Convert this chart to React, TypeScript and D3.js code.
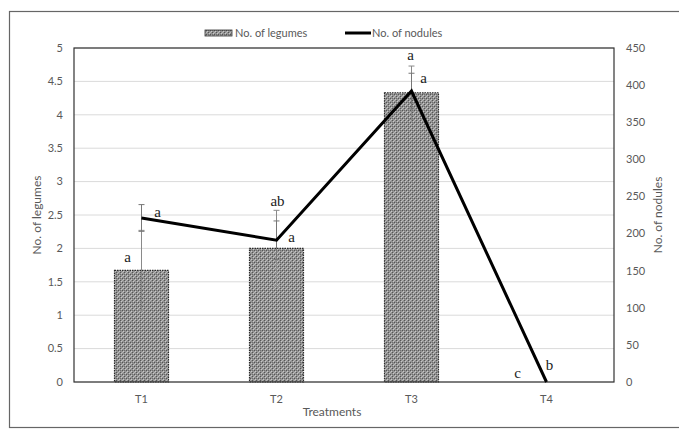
import React from "react";
import * as d3 from "d3";

const categories = ["T1", "T2", "T3", "T4"];
const legumes = [1.67, 2.0, 4.33, 0];
const legumesErr = [0.6, 0.57, 0.4, 0];
const nodules = [221, 191, 392, 0];
const nodulesErr = [18, 26, 24, 0];
const legumeLetters = ["a", "ab", "a", "c"];
const noduleLetters = ["a", "a", "a", "b"];
const leftTicks = [0, 0.5, 1, 1.5, 2, 2.5, 3, 3.5, 4, 4.5, 5];
const rightTicks = [0, 50, 100, 150, 200, 250, 300, 350, 400, 450];

const W = 679, H = 430;
const M = { left: 74, right: 614, top: 48, bottom: 382 };
const FONT = "Lato, 'Open Sans', sans-serif";
const SERIF = "'Liberation Serif', 'DejaVu Serif', serif";
const GRAY = "#595959";

export default function App() {
  const x = d3.scaleBand<string>().domain(categories).range([M.left, M.right]).paddingInner(0).paddingOuter(0);
  const yL = d3.scaleLinear().domain([0, 5]).range([M.bottom, M.top]);
  const yR = d3.scaleLinear().domain([0, 450]).range([M.bottom, M.top]);
  const cx = (c: string) => (x(c) as number) + x.bandwidth() / 2;
  const barW = x.bandwidth() * 0.4;
  const line = d3.line<number>().x((_, i) => cx(categories[i])).y((d) => yR(d));

  // letter offsets (label placement)
  const barLetterPos = [
    { dx: -14, dy: -8 },
    { dx: 1, dy: -42 },
    { dx: -1, dy: -33 },
    { dx: -29, dy: -4 },
  ];
  const lineLetterPos = [
    { dx: 16, dy: -1 },
    { dx: 15, dy: 2 },
    { dx: 12, dy: -8 },
    { dx: 3, dy: -12 },
  ];

  return (
    <svg width={W} height={H} style={{ position: "absolute", left: 0, top: 0, background: "#fff" }}>
      <defs>
        <pattern id="dots" width="4" height="4" patternUnits="userSpaceOnUse">
          <rect width="4" height="4" fill="#939393" />
          <rect x="0" y="0" width="1" height="1" fill="#555" />
          <rect x="2" y="2" width="1" height="1" fill="#555" />
          <rect x="1" y="1" width="1" height="1" fill="#c8c8c8" />
          <rect x="3" y="3" width="1" height="1" fill="#c8c8c8" />
          <rect x="2" y="0" width="1" height="1" fill="#b5b5b5" />
          <rect x="0" y="2" width="1" height="1" fill="#707070" />
        </pattern>
      </defs>
      <rect x={9.5} y={11.5} width={675} height={416} fill="none" stroke="#666" strokeWidth={1.2} />

      {/* gridlines */}
      {leftTicks.map((t) => (
        <line key={"g" + t} x1={M.left} x2={M.right} y1={yL(t)} y2={yL(t)} stroke="#dadada" strokeWidth={1} />
      ))}

      {/* bars */}
      {legumes.map((v, i) => (
        <rect
          key={"b" + i}
          x={cx(categories[i]) - barW / 2}
          y={yL(v)}
          width={barW}
          height={yL(0) - yL(v)}
          fill="url(#dots)"
          stroke="#2a2a2a"
          strokeWidth={1.2}
          strokeDasharray="1.5,1"
        />
      ))}

      {/* legume error bars */}
      {legumes.map((v, i) =>
        legumesErr[i] > 0 ? (
          <g key={"le" + i} stroke="#8a8a8a" strokeWidth={1}>
            <line x1={cx(categories[i])} x2={cx(categories[i])} y1={yL(v - legumesErr[i])} y2={yL(v + legumesErr[i])} />
            <line x1={cx(categories[i]) - 3} x2={cx(categories[i]) + 3} y1={yL(v - legumesErr[i])} y2={yL(v - legumesErr[i])} />
            <line x1={cx(categories[i]) - 3} x2={cx(categories[i]) + 3} y1={yL(v + legumesErr[i])} y2={yL(v + legumesErr[i])} />
          </g>
        ) : null
      )}

      {/* nodule error bars */}
      {nodules.map((v, i) =>
        nodulesErr[i] > 0 ? (
          <g key={"ne" + i} stroke="#777" strokeWidth={1}>
            <line x1={cx(categories[i])} x2={cx(categories[i])} y1={yR(v - nodulesErr[i])} y2={yR(v + nodulesErr[i])} />
            <line x1={cx(categories[i]) - 3} x2={cx(categories[i]) + 3} y1={yR(v - nodulesErr[i])} y2={yR(v - nodulesErr[i])} />
            <line x1={cx(categories[i]) - 3} x2={cx(categories[i]) + 3} y1={yR(v + nodulesErr[i])} y2={yR(v + nodulesErr[i])} />
          </g>
        ) : null
      )}

      {/* plot border */}
      <rect x={M.left} y={M.top} width={M.right - M.left} height={M.bottom - M.top} fill="none" stroke="#333" strokeWidth={1.2} />

      {/* nodule line */}
      <path d={line(nodules) as string} fill="none" stroke="#000" strokeWidth={3} strokeLinejoin="miter" />

      {/* letters */}
      {legumes.map((v, i) => (
        <text
          key={"bl" + i}
          x={cx(categories[i]) + barLetterPos[i].dx}
          y={yL(v) + barLetterPos[i].dy}
          textAnchor="middle"
          fontFamily={SERIF}
          fontSize={15}
          fill="#222"
        >
          {legumeLetters[i]}
        </text>
      ))}
      {nodules.map((v, i) => (
        <text
          key={"nl" + i}
          x={cx(categories[i]) + lineLetterPos[i].dx}
          y={yR(v) + lineLetterPos[i].dy}
          textAnchor="middle"
          fontFamily={SERIF}
          fontSize={15}
          fill="#222"
        >
          {noduleLetters[i]}
        </text>
      ))}

      {/* left ticks */}
      {leftTicks.map((t) => (
        <text key={"lt" + t} x={63} y={yL(t)} dy="0.35em" textAnchor="end" fontFamily={FONT} fontSize={11} fill={GRAY}>
          {t}
        </text>
      ))}
      {/* right ticks */}
      {rightTicks.map((t) => (
        <text key={"rt" + t} x={626} y={yR(t)} dy="0.35em" textAnchor="start" fontFamily={FONT} fontSize={11} fill={GRAY}>
          {t}
        </text>
      ))}
      {/* category labels */}
      {categories.map((c) => (
        <text key={"c" + c} x={cx(c)} y={399} dy="0.35em" textAnchor="middle" fontFamily={FONT} fontSize={11} fill={GRAY}>
          {c}
        </text>
      ))}

      {/* axis titles */}
      <text x={332} y={412} dy="0.35em" textAnchor="middle" fontFamily={FONT} fontSize={12} fill={GRAY}>
        Treatments
      </text>
      <text transform={`translate(37,${(M.top + M.bottom) / 2}) rotate(-90)`} dy="0.35em" textAnchor="middle" fontFamily={FONT} fontSize={12} fill={GRAY}>
        No. of legumes
      </text>
      <text transform={`translate(658,${(M.top + M.bottom) / 2}) rotate(-90)`} dy="0.35em" textAnchor="middle" fontFamily={FONT} fontSize={12} fill={GRAY}>
        No. of nodules
      </text>

      {/* legend */}
      <rect x={205} y={30} width={27} height={6} fill="url(#dots)" stroke="#333" strokeWidth={0.8} />
      <text x={235} y={33} dy="0.35em" fontFamily={FONT} fontSize={11} fill={GRAY}>
        No. of legumes
      </text>
      <line x1={345} x2={371} y1={33} y2={33} stroke="#000" strokeWidth={3} />
      <text x={372} y={33} dy="0.35em" fontFamily={FONT} fontSize={11} fill={GRAY}>
        No. of nodules
      </text>
    </svg>
  );
}
